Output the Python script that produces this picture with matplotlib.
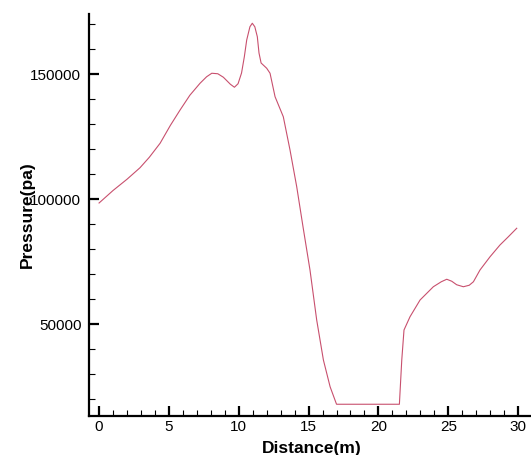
import matplotlib
matplotlib.use("Agg")
import matplotlib.pyplot as plt
from matplotlib.ticker import MultipleLocator

# distance (m) and pressure (pa)
distance = [0, 1, 2, 2.93, 3.6, 4.37, 5.1, 5.8, 6.5, 7.23, 7.7, 8.07, 8.5, 8.9,
            9.4, 9.69, 9.95, 10.2, 10.4, 10.57, 10.8, 10.97, 11.15, 11.33,
            11.45, 11.6, 12.0, 12.24, 12.6, 13.19, 13.67, 14.15, 14.6, 15.1,
            15.58, 16.06, 16.54, 17.0, 21.5, 21.67, 21.83, 22.26, 22.98, 23.93,
            24.5, 24.89, 25.25, 25.6, 26.08, 26.5, 26.8, 27.27, 27.99, 28.7,
            29.3, 29.9]
pressure = [98500, 103500, 108000, 112600, 116800, 122400, 129500, 135700,
            141600, 146400, 149000, 150400, 150200, 148800, 146000, 144800,
            146200, 150500, 157000, 163700, 169000, 170400, 169000, 165000,
            158500, 154500, 152400, 150400, 141000, 133000, 119700, 105000,
            89000, 71700, 51700, 35700, 25000, 18000, 18000, 35700, 47700,
            53000, 59700, 65000, 67000, 68000, 67200, 65800, 65000, 65600,
            67000, 71700, 77000, 81700, 85000, 88400]

plt.rcParams['font.family'] = ['Liberation Sans', 'DejaVu Sans']

fig = plt.figure(figsize=(5.31, 4.55), dpi=100)
ax = fig.add_axes([89/531, 39/455, 441/531, 402/455])

ax.plot(distance, pressure, color='#c8506e', lw=0.8)

ax.set_xlim(-0.72, 30.85)
ax.set_ylim(13300, 174100)

ax.spines['top'].set_visible(False)
ax.spines['right'].set_visible(False)
ax.spines['left'].set_linewidth(1.6)
ax.spines['bottom'].set_linewidth(1.6)

ax.xaxis.set_major_locator(MultipleLocator(5))
ax.xaxis.set_minor_locator(MultipleLocator(1))
ax.yaxis.set_major_locator(MultipleLocator(50000))
ax.yaxis.set_minor_locator(MultipleLocator(10000))

ax.tick_params(axis='both', which='major', direction='in', length=7, width=1.6,
               labelsize=11, color='black')
ax.tick_params(axis='both', which='minor', direction='in', length=4, width=0.8)
ax.tick_params(axis='x', which='major', pad=3)
ax.tick_params(axis='y', which='major', pad=5.5)

ax.set_xlabel("Distance(m)", fontsize=12.5, fontweight='bold')
ax.set_ylabel("Pressure(pa)", fontsize=12.5, fontweight='bold')
ax.xaxis.set_label_coords(0.506, -0.062)
ax.yaxis.set_label_coords(-0.122, 0.5)

fig.savefig("out.png", dpi=100)
